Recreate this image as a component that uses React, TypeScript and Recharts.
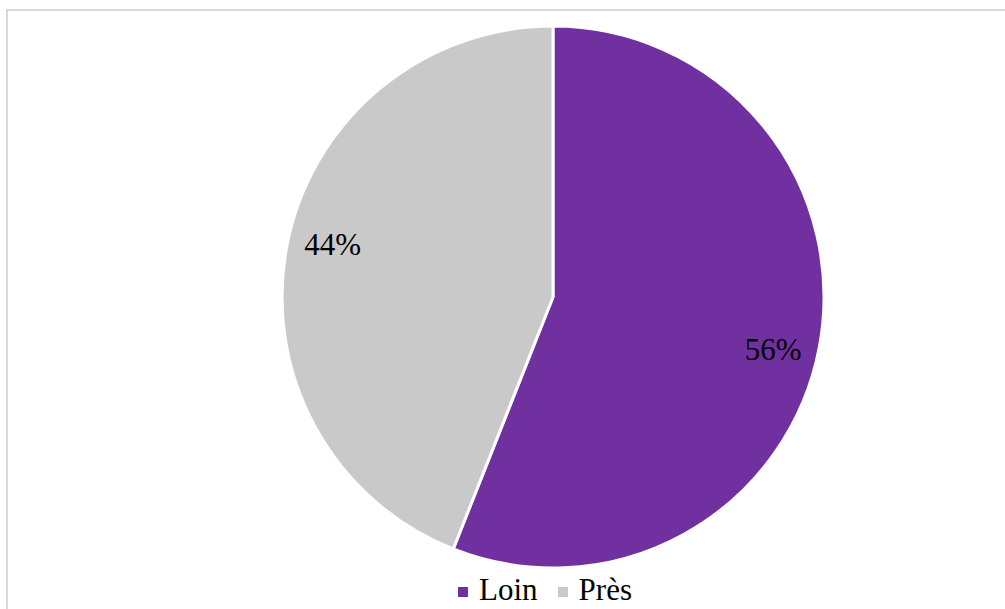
import React from "react";
import { PieChart, Pie, Cell, Legend } from "recharts";

const categories = ["Loin", "Près"];
const values = [56, 44];
const colors = ["#7030A0", "#C9C9C9"];

const data = categories.map((name, i) => ({ name, value: values[i] }));

const RAD = Math.PI / 180;
const FONT = "Liberation Serif";

const renderLabel = (props: any) => {
  const { cx, cy, midAngle, outerRadius, value } = props;
  const r = outerRadius * 0.835;
  const a = midAngle - 2.5;
  const x = cx + r * Math.cos(-a * RAD);
  const y = cy + r * Math.sin(-a * RAD);
  return (
    <text
      x={x}
      y={y}
      textAnchor="middle"
      dominantBaseline="central"
      fill="#000"
      fontFamily={FONT}
      fontSize={31}
    >
      {`${value}%`}
    </text>
  );
};

const renderLegend = (props: any) => {
  const { payload } = props;
  return (
    <div
      style={{
        display: "flex",
        justifyContent: "center",
        alignItems: "center",
        fontFamily: FONT,
        fontSize: 31,
        color: "#000",
      }}
    >
      {payload.map((p: any, i: number) => (
        <div
          key={i}
          style={{ display: "flex", alignItems: "center", marginRight: i < payload.length - 1 ? 20 : 0 }}
        >
          <span
            style={{
              display: "inline-block",
              width: 10,
              height: 10,
              background: p.color,
              marginRight: 11,
              marginTop: 4,
            }}
          />
          <span style={{ fontFamily: FONT }}>{p.value}</span>
        </div>
      ))}
    </div>
  );
};

export default function App() {
  return (
    <div
      style={{
        position: "absolute",
        left: 6,
        top: 9,
        width: 1010,
        height: 610,
        border: "2px solid #d9d9d9",
        background: "#fff",
        boxSizing: "border-box",
        overflow: "hidden",
        fontFamily: FONT,
      }}
    >
      <PieChart width={1000} height={600} margin={{ top: 0, right: 0, bottom: 0, left: 0 }}>
        <Pie
          data={data}
          dataKey="value"
          nameKey="name"
          cx={545}
          cy={286}
          outerRadius={271}
          startAngle={90}
          endAngle={-270}
          stroke="#fff"
          strokeWidth={3}
          label={renderLabel}
          labelLine={false}
          isAnimationActive={false}
        >
          {data.map((d, i) => (
            <Cell key={d.name} fill={colors[i]} />
          ))}
        </Pie>
        <Legend
          content={renderLegend}
          wrapperStyle={{ position: "absolute", top: 561, left: 37, width: 1000 }}
        />
      </PieChart>
    </div>
  );
}
